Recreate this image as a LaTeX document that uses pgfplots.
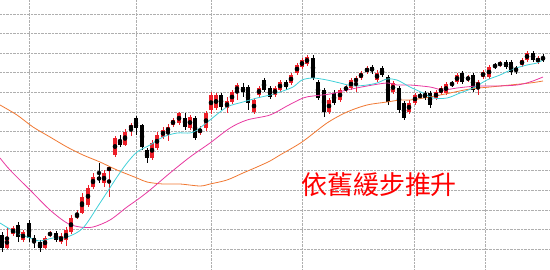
\documentclass[border=0pt]{standalone}
\usepackage{pgfplots}
\usepackage{pgfplotstable}
\pgfplotsset{compat=1.18}
\usepackage{fontspec}
\newfontfamily\cjk{Noto Sans CJK TC}
\definecolor{candlered}{RGB}{236,30,40}
\definecolor{macyan}{RGB}{64,208,216}
\definecolor{mamag}{RGB}{232,56,160}
\definecolor{maorange}{RGB}{240,120,50}
\definecolor{gridc}{RGB}{175,175,175}

% candles: x o h l c (screen units, y grows downward)
\pgfplotstableread{
x o h l c
7 248 228 249 237
13 234 226 236 228
23 240 230 242 232
45 248 236 249 238
50 235 231 237 233
61 242 233 244 236
66 240 227 246 230
71 232 215 234 218
77 217 210 219 215
82 213 193 214 197
88 205 185 207 188
93 187 173 189 177
104 183 170 187 173
109 171 166 197 167
115 155 136 157 138
125 145 129 146 132
131 129 123 136 125
152 158 140 160 143
157 148 132 150 135
163 137 127 139 130
168 132 124 141 127
173 125 118 127 120
179 123 112 125 113
190 128 115 130 117
200 133 126 135 129
206 128 111 131 113
211 110 92 114 95
216 108 93 110 95
227 108 97 113 101
232 102 90 104 92
237 92 83 100 85
254 112 98 114 100
259 95 86 97 88
275 95 86 97 88
280 90 80 92 82
291 83 73 85 75
297 73 63 75 65
302 67 58 69 60
307 64 55 66 57
329 112 98 114 100
340 100 88 102 90
346 90 85 92 87
351 88 78 90 80
356 82 76 92 78
361 78 71 80 73
367 72 66 74 68
377 80 70 82 73
393 92 81 94 83
409 112 100 114 103
415 103 93 105 95
436 98 90 100 92
441 93 86 95 88
446 93 82 95 84
457 82 73 84 75
468 80 75 82 77
478 87 80 95 82
483 77 70 79 72
489 77 65 79 67
500 65 61 67 63
522 65 58 67 60
527 60 51 62 53
538 62 56 64 58
}\redc

\pgfplotstableread{
x o h l c
2 235 232 252 248
18 225 222 242 237
29 223 220 242 238
34 238 235 248 242
40 242 240 252 248
56 233 231 242 240
99 177 163 183 180
120 140 135 147 145
136 118 116 135 128
142 125 124 150 147
147 150 148 163 158
185 118 113 130 127
195 118 116 140 138
221 95 93 110 107
243 87 83 97 92
248 87 85 110 103
264 80 78 92 90
270 88 86 99 97
286 82 80 90 87
313 58 55 80 78
318 82 80 100 98
324 90 88 117 112
334 93 90 105 103
372 67 65 74 71
382 68 66 77 75
388 77 75 105 102
399 88 86 113 110
404 103 101 120 118
420 95 93 99 97
425 93 91 100 98
430 93 91 108 105
452 83 81 87 85
462 73 71 84 82
473 75 73 92 90
495 65 63 69 67
506 62 60 69 67
511 62 60 75 72
516 68 66 74 71
533 53 51 62 60
543 57 54 62 60
}\blackc

\begin{document}
\begin{tikzpicture}
\begin{axis}[
  width=550pt, height=269pt, scale only axis,
  xmin=0, xmax=550, ymin=0, ymax=269, y dir=reverse,
  axis line style={draw=none},
  xtick={29,136,211,302,414,485},
  ytick={14,33.6,53.2,72.8,92.4,112,131.6,151.2,170.8,190.4,210,229.6,249.2},
  xticklabels={}, yticklabels={},
  major tick length=0pt,
  grid=major,
  grid style={densely dotted, gridc, line width=0.8pt},
]
\coordinate (sw) at (rel axis cs:0,0);
\coordinate (ne) at (rel axis cs:1,1);
% wicks
\addplot[only marks, mark=none, error bars/.cd, y dir=both, y explicit, error mark=none,
  error bar style={candlered, line width=0.9pt}]
  table[x=x, y expr=(\thisrow{h}+\thisrow{l})/2, y error expr=(\thisrow{l}-\thisrow{h})/2] {\redc};
\addplot[only marks, mark=none, error bars/.cd, y dir=both, y explicit, error mark=none,
  error bar style={black, line width=0.9pt}]
  table[x=x, y expr=(\thisrow{h}+\thisrow{l})/2, y error expr=(\thisrow{l}-\thisrow{h})/2] {\blackc};
% bodies
\addplot[only marks, mark=none, error bars/.cd, y dir=both, y explicit, error mark=none,
  error bar style={candlered, line width=3.3pt}]
  table[x=x, y expr=(\thisrow{o}+\thisrow{c})/2, y error expr=abs(\thisrow{o}-\thisrow{c})/2] {\redc};
\addplot[only marks, mark=none, error bars/.cd, y dir=both, y explicit, error mark=none,
  error bar style={black, line width=3.3pt}]
  table[x=x, y expr=(\thisrow{o}+\thisrow{c})/2, y error expr=abs(\thisrow{o}-\thisrow{c})/2] {\blackc};
% moving averages
\addplot[maorange, line width=0.8pt, mark=none, smooth] coordinates {
(0,105) (17,115) (33,127) (50,137) (67,147) (83,155) (100,162) (117,170) (137,178) (147,182) (163,184) (180,184) (200,186) (210,184) (227,180) (243,173) (257,167) (270,161) (280,155) (302,142) (327,123) (347,112) (367,105) (387,102) (400,100) (410,100) (430,97) (450,93) (470,89) (490,87) (510,85) (530,83) (543,81)};
\addplot[mamag, line width=0.8pt, mark=none, smooth] coordinates {
(0,158) (10,170) (30,190) (50,210) (67,223) (80,227) (93,227) (110,220) (127,207) (137,200) (150,190) (170,173) (190,157) (210,143) (230,128) (247,120) (270,115) (287,106) (303,98) (313,96) (330,94) (347,90) (367,86) (387,83) (397,85) (410,85) (430,87) (443,90) (457,88) (477,86) (497,86) (517,85) (530,82) (543,77)};
\addplot[macyan, line width=0.8pt, mark=none, smooth] coordinates {
(0,223) (17,233) (33,239) (40,241) (53,238) (67,237) (83,228) (100,203) (117,177) (127,163) (137,152) (150,145) (163,137) (177,133) (190,133) (197,130) (210,120) (227,107) (243,102) (257,98) (270,95) (280,92) (293,87) (302,80) (313,78) (327,80) (340,83) (353,86) (367,85) (377,83) (387,79) (397,80) (410,87) (423,93) (433,98) (447,98) (460,93) (473,88) (487,80) (500,75) (513,69) (527,65) (537,63) (543,60)};
\node[text=red, font=\cjk\fontsize{26pt}{26pt}\selectfont, inner sep=0pt] at (axis cs:379,185) {依舊緩步推升};
\end{axis}
\pgfresetboundingbox
\path[use as bounding box] (sw) rectangle (ne);
\end{tikzpicture}
\end{document}
